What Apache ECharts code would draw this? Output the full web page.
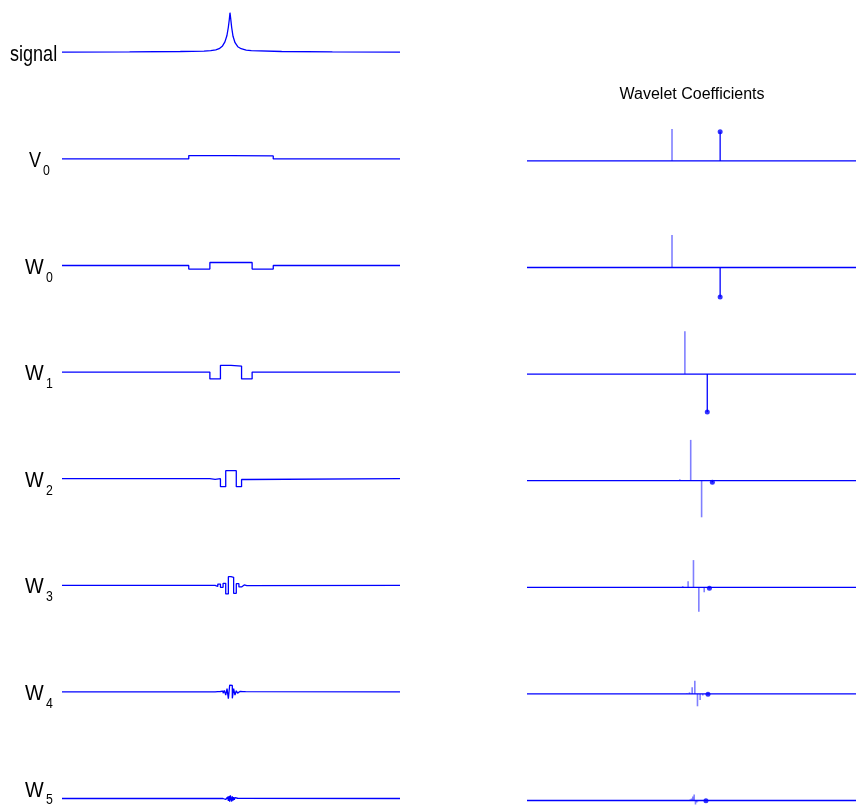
<!DOCTYPE html>
<html><head><meta charset="utf-8">
<script src="https://cdn.jsdelivr.net/npm/echarts@6/dist/echarts.min.js"></script>
<style>html,body{margin:0;padding:0;background:#fff}#c{width:856px;height:807px}</style>
</head><body><div id="c"></div><script>
// ---- row labels ----
const leftNames = ['signal', 'V', 'W', 'W', 'W', 'W', 'W', 'W'];
const leftSubs = ['', '0', '0', '1', '2', '3', '4', '5'];
const rightTitle = 'Wavelet Coefficients';

// ---- signal (t in [0,1]) ----
const signalX = [0, 0.2, 0.35, 0.42, 0.44, 0.455, 0.465, 0.475, 0.482, 0.488, 0.492, 0.495, 0.497, 0.499, 0.502, 0.506, 0.512, 0.52, 0.53, 0.545, 0.56, 0.65, 0.8, 1];
const signalY = [0.005, 0.01, 0.02, 0.03, 0.04, 0.06, 0.09, 0.16, 0.26, 0.42, 0.62, 0.82, 0.99, 0.85, 0.62, 0.4, 0.24, 0.14, 0.09, 0.055, 0.04, 0.02, 0.01, 0.005];

// ---- left step functions: number of pieces, first non-zero piece, piece values ----
const pieceCounts = [8, 16, 32, 64, 128, 256, 512];
const pieceStarts = [3, 6, 14, 28, 58, 116, 244];
const v0Pieces = [0.082, 0.075];
const w0Pieces = [-0.09, 0.075, 0.075, -0.09];
const w1Pieces = [-0.17, 0.17, 0.15, -0.17];
const w2Pieces = [-0.015, 0.0, -0.2, 0.2, 0.2, -0.2, -0.02];
const w3Pieces = [-0.03, 0.03, -0.05, 0.05, -0.215, 0.215, 0.2, -0.2, 0.04, -0.04, 0.01, -0.01];
const w4Pieces = [-0.006, 0.006, -0.01, 0.01, -0.02, 0.02, -0.035, 0.035, -0.08, 0.08, -0.17, 0.17, 0.16, -0.16, 0.08, -0.08, 0.03, -0.03, 0.015, -0.015, 0.008, -0.008, 0.005, -0.005];
const w5Pieces = [-0.01, 0.01, -0.015, 0.015, -0.025, 0.025, -0.04, 0.04, -0.06, 0.06, -0.08, 0.08, 0.075, -0.075, 0.055, -0.055, 0.035, -0.035, 0.02, -0.02, 0.012, -0.012, 0.006, -0.006];
const leftPieces = [v0Pieces, w0Pieces, w1Pieces, w2Pieces, w3Pieces, w4Pieces, w5Pieces];

// ---- right: wavelet coefficients (index, value) ----
const coefCounts = [8, 8, 16, 32, 64, 128, 256];
const v0CoefIdx = [3];            const v0CoefVal = [0.8];
const w0CoefIdx = [3];            const w0CoefVal = [0.81];
const w1CoefIdx = [7];            const w1CoefVal = [1.07];
const w2CoefIdx = [14, 15, 16];   const w2CoefVal = [0.035, 1.02, -0.915];
const w3CoefIdx = [29, 30, 31, 32, 33];  const w3CoefVal = [0.03, 0.15, 0.68, -0.61, -0.125];
const w4CoefIdx = [60, 61, 62, 63, 64, 65, 66];  const w4CoefVal = [0.012, 0.04, 0.165, 0.33, -0.31, -0.15, -0.04];
const w5CoefIdx = [122, 123, 124, 125, 126, 127, 128, 129];  const w5CoefVal = [0.01, 0.025, 0.05, 0.1, 0.15, -0.1, -0.05, -0.02];
const coefIdx = [v0CoefIdx, w0CoefIdx, w1CoefIdx, w2CoefIdx, w3CoefIdx, w4CoefIdx, w5CoefIdx];
const coefVal = [v0CoefVal, w0CoefVal, w1CoefVal, w2CoefVal, w3CoefVal, w4CoefVal, w5CoefVal];
// marked coefficient (drawn with a dot) per row
const dotIdx = [4, 4, 8, 17, 34, 68, 135];
const dotVal = [0.73, -0.74, -0.95, -0.04, -0.025, -0.01, -0.005];

// ---- layout ----
const W = 856, H = 807;
const leftBase0 = 52.3, rightBase0 = 160.9, rowStep = 106.6, PX = 40;
const LEFT_X = 62, RIGHT_X = 527, AXIS_W = 338;
const BLUE = '#0000ff';

const grids = [], xAxes = [], yAxes = [], series = [], graphics = [];
function addGrid(left, width, base, xmin, xmax) {
  const gi = grids.length;
  const above = Math.min(50, base - 1), below = Math.min(50, H - base - 0.5);
  grids.push({ left: left, width: width, top: base - above, height: above + below });
  xAxes.push({ type: 'value', gridIndex: gi, min: xmin, max: xmax, show: false });
  yAxes.push({ type: 'value', gridIndex: gi, min: -below / PX, max: above / PX, show: false });
  return gi;
}
const lineStyle = { color: BLUE, width: 1.3 };

// signal row
{
  const gi = addGrid(LEFT_X, AXIS_W, leftBase0, 0, 1);
  series.push({ type: 'line', xAxisIndex: gi, yAxisIndex: gi, symbol: 'none', silent: true, animation: false,
    lineStyle, data: signalX.map((x, i) => [x, signalY[i]]) });
}
// step rows
leftPieces.forEach((vals, r) => {
  const base = leftBase0 + rowStep * (r + 1);
  const gi = addGrid(LEFT_X, AXIS_W, base, 0, 1);
  const N = pieceCounts[r], s = pieceStarts[r];
  const data = [[0, 0]];
  vals.forEach((v, i) => data.push([(s + i) / N, v]));
  data.push([(s + vals.length) / N, 0]);
  data.push([1, 0]);
  series.push({ type: 'line', step: 'end', xAxisIndex: gi, yAxisIndex: gi, symbol: 'none', silent: true,
    animation: false, lineStyle, data });
});
// coefficient rows (the axis runs past the right edge of the picture: show the visible part)
coefIdx.forEach((idx, r) => {
  const base = rightBase0 + rowStep * r;
  const N = coefCounts[r];
  const visW = W - 1 - RIGHT_X;
  const gi = addGrid(RIGHT_X, visW, base, 0, (N - 1) * visW / AXIS_W);
  series.push({ type: 'line', xAxisIndex: gi, yAxisIndex: gi, symbol: 'none', silent: true, animation: false,
    lineStyle: { color: BLUE, width: 1.3 }, data: [[0, 0], [N - 1, 0]] });
  series.push({ type: 'bar', xAxisIndex: gi, yAxisIndex: gi, barWidth: 1.6, silent: true, animation: false,
    itemStyle: { color: 'rgba(0,0,255,0.5)' }, data: idx.map((k, i) => [k, coefVal[r][i]]) });
  series.push({ type: 'bar', xAxisIndex: gi, yAxisIndex: gi, barWidth: 1.3, barGap: '-100%', silent: true, animation: false,
    itemStyle: { color: BLUE }, data: [[dotIdx[r], dotVal[r]]] });
  series.push({ type: 'scatter', xAxisIndex: gi, yAxisIndex: gi, symbol: 'circle', symbolSize: 5, silent: true,
    animation: false, itemStyle: { color: BLUE }, data: [[dotIdx[r], dotVal[r]]] });
});

// labels (condensed Helvetica-like lettering)
const FONT = '"Liberation Sans", Arial, sans-serif';
const NARROW = 0.82;
graphics.push({ type: 'text', x: 10, y: leftBase0 + 3, scaleX: NARROW,
  style: { text: leftNames[0], font: '22px ' + FONT, fill: '#000', textVerticalAlign: 'middle' } });
for (let r = 1; r < leftNames.length; r++) {
  const base = leftBase0 + rowStep * r;
  const isW = leftNames[r] === 'W';
  const last = r === leftNames.length - 1;
  graphics.push({ type: 'text', x: isW ? 25 : 29, y: base + (last ? -8 : 2), scaleX: isW ? 0.9 : NARROW,
    style: { text: leftNames[r], font: '22px ' + FONT, fill: '#000', textVerticalAlign: 'middle' } });
  graphics.push({ type: 'text', x: isW ? 46 : 43, y: base + (last ? 1 : 12), scaleX: NARROW,
    style: { text: leftSubs[r], font: '15px ' + FONT, fill: '#000', textVerticalAlign: 'middle' } });
}
graphics.push({ type: 'text', x: 692, y: 95,
  style: { text: rightTitle, font: '16px ' + FONT, fill: '#000', textAlign: 'center', textVerticalAlign: 'middle' } });

const chart = echarts.init(document.getElementById('c'), null, { renderer: 'canvas' });
chart.setOption({ animation: false, grid: grids, xAxis: xAxes, yAxis: yAxes, series, graphic: graphics });
</script></body></html>
